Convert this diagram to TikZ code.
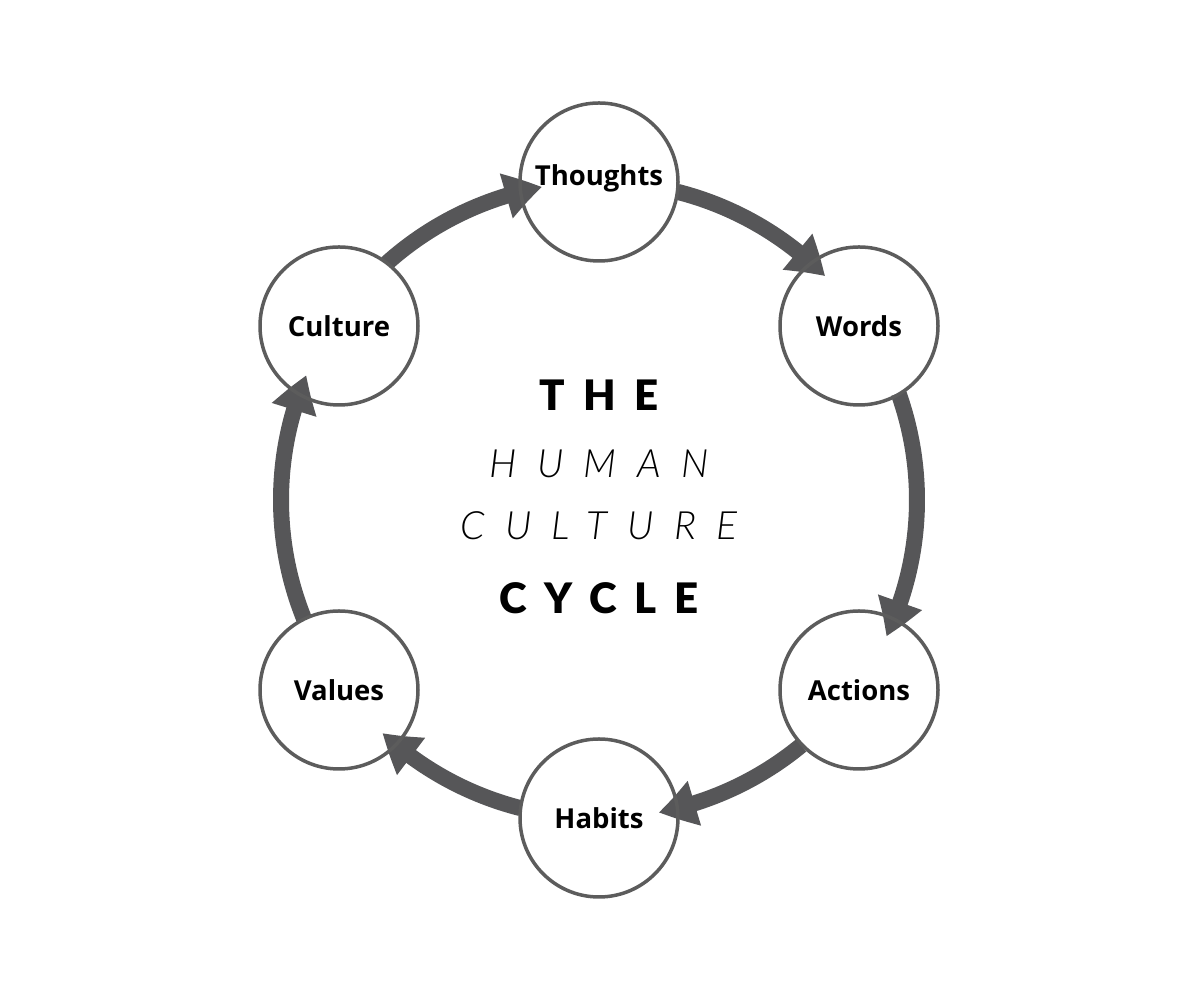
\documentclass[tikz,border=0pt]{standalone}
\usepackage{fontspec}
\setmainfont{Open Sans}
\newfontfamily\latoblack{Lato Black}
\newfontfamily\lightit{Lato Light Italic}
\usetikzlibrary{arrows.meta,bending,calc}
\definecolor{ringgray}{RGB}{92,92,92}
\definecolor{arrowgray}{RGB}{86,86,88}
\begin{document}
\begin{tikzpicture}[x=1pt,y=1pt,
  stage/.style={circle,draw=ringgray,line width=3.5pt,minimum size=158pt,inner sep=0pt,
    font=\fontsize{27.5}{32}\selectfont\bfseries},
  flow/.style={draw=arrowgray,line width=16pt,line cap=butt,
    -{Triangle[length=37pt,width=44pt,bend]},arrowgray},
  title/.style={font=\fontsize{42}{46}\selectfont\latoblack\addfontfeature{LetterSpace=43}},
  sub/.style={font=\fontsize{39}{43}\selectfont\lightit\addfontfeature{LetterSpace=52}}]
\useasboundingbox (0,0) rectangle (1200,1000);
\coordinate (o) at (599,500);
% arrows along the ring (radius 318 around o)
\draw[flow] ($(o)+(131.9:318)$) arc[start angle=131.9,end angle=100.3,radius=318];
\draw[flow] ($(o)+(75.7:318)$) arc[start angle=75.7,end angle=44.7,radius=318];
\draw[flow] ($(o)+(19.6:318)$) arc[start angle=19.6,end angle=-25.4,radius=318];
\draw[flow] ($(o)+(-50.5:318)$) arc[start angle=-50.5,end angle=-79.2,radius=318];
\draw[flow] ($(o)+(-104.3:318)$) arc[start angle=-104.3,end angle=-132.9,radius=318];
\draw[flow] ($(o)+(-158.1:318)$) arc[start angle=-158.1,end angle=-203.1,radius=318];
% stages
\node[stage] (thoughts) at (599,818) {};
\node[font=\fontsize{27.5}{32}\selectfont\bfseries,inner sep=0pt] (thoughtslabel) at (599,822) {Thoughts};
\node[stage] (words) at (859,674) {Words};
\node[stage] (actions) at (859,310) {Actions};
\node[stage] (habits) at (599,182) {Habits};
\node[stage] (values) at (339,310) {Values};
\node[stage] (culture) at (339,674) {Culture};
% title
\node[title] (the) at (599,605) {THE};
\node[sub] (human) at (599,536) {HUMAN};
\node[sub] (cult) at (599,474) {CULTURE};
\node[title] (cycle) at (599,402) {CYCLE};
\end{tikzpicture}
\end{document}
